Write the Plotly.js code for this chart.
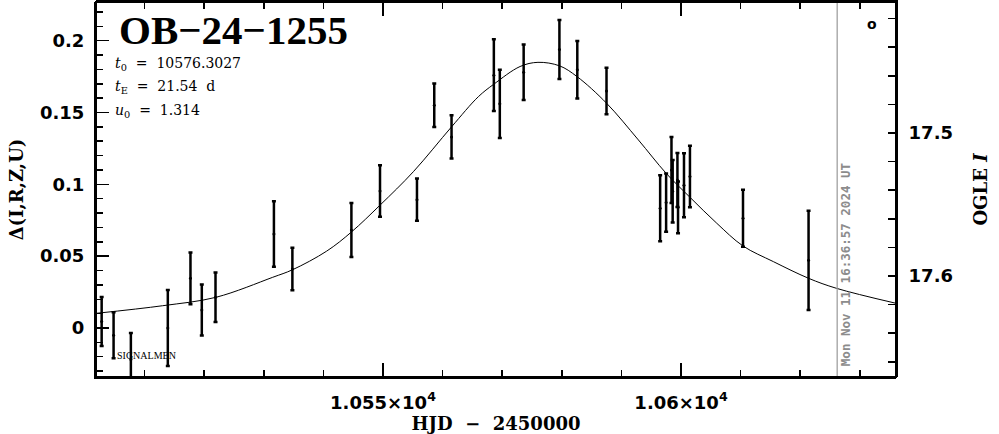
<!DOCTYPE html>
<html>
<head>
<meta charset="utf-8">
<script src="https://cdn.plot.ly/plotly-3.0.1.min.js"></script>
<style>html,body{margin:0;padding:0;background:#fff;}#chart{width:999px;height:434px;}</style>
</head>
<body>
<div id="chart"></div>
<script>
// Observations: HJD - 2450000, Delta flux, error
const obsHJD = [10502.8, 10504.8, 10507.7, 10513.9, 10517.7, 10519.6, 10521.9, 10531.7, 10534.8, 10544.7,
                10549.5, 10555.7, 10558.6, 10561.5, 10568.6, 10569.6, 10573.6, 10579.6, 10582.6, 10587.5,
                10596.5, 10597.5, 10598.4, 10598.6, 10599.4, 10599.5, 10600.5, 10601.5, 10610.4, 10621.4];
const obsDelta = [0.0045, -0.005, -0.022, 0.000, 0.0346, 0.0125, 0.0214, 0.0655, 0.041, 0.0682,
                  0.0954, 0.0893, 0.155, 0.133, 0.176, 0.156, 0.178, 0.1938, 0.1797, 0.165,
                  0.0833, 0.0873, 0.110, 0.0952, 0.103, 0.084, 0.0994, 0.1054, 0.0764, 0.0471];
const obsErr = [0.017, 0.016, 0.0185, 0.0265, 0.018, 0.0178, 0.0172, 0.0228, 0.0148, 0.0188,
                0.0179, 0.0147, 0.0151, 0.0151, 0.0249, 0.0237, 0.0193, 0.0205, 0.020, 0.0162,
                0.023, 0.0203, 0.023, 0.0218, 0.0188, 0.018, 0.0223, 0.0214, 0.0198, 0.0345];

// Model curve
const modelHJD = [10501.85, 10513.0, 10522.0, 10531.5, 10534.85, 10540.55, 10544.7, 10549.55, 10555.1, 10561.5,
                  10566.0, 10568.6, 10573.0, 10576.0, 10579.6, 10582.55, 10587.5, 10592.85, 10597.5, 10601.5,
                  10606.0, 10610.4, 10615.5, 10621.4, 10626.1, 10636.07];
const modelDelta = [0.0102, 0.0155, 0.0214, 0.0353, 0.0406, 0.0535, 0.0668, 0.0857, 0.1088, 0.140,
                    0.161, 0.1697, 0.182, 0.1849, 0.1825, 0.175, 0.1565, 0.1309, 0.1077, 0.091,
                    0.0729, 0.0571, 0.0462, 0.0346, 0.0276, 0.0172];

// Axis ticks
const xTickVals = [10550, 10600];
const xTickText = ['1.055×10<sup>4</sup>', '1.06×10<sup>4</sup>'];
const magTickVals = [17.5, 17.6];
const xRange = [10501.85, 10636.07];
const yRange = [-0.0341, 0.2269];
const magRange = [17.6706, 17.4084];
const nowHJD = 10626.2;
const nowLabel = 'Mon Nov 11 16:36:57 2024 UT';

const tickFont = {family: 'DejaVu Sans', size: 18, color: '#000', weight: 'bold'};
const titleFont = {family: 'DejaVu Serif', size: 18, color: '#000', weight: 'bold'};

const traces = [
  {
    x: modelHJD, y: modelDelta, type: 'scatter', mode: 'lines',
    line: {color: '#000', width: 1, shape: 'spline', smoothing: 1},
    hoverinfo: 'skip', showlegend: false
  },
  {
    x: obsHJD, y: obsDelta, type: 'scatter', mode: 'markers',
    marker: {color: '#000', size: 3},
    error_y: {type: 'data', array: obsErr, visible: true, color: '#000', thickness: 2.5, width: 2},
    showlegend: false
  },
  // empty trace: second full subplot (same area) carrying the top ticks and the OGLE I axis
  {x: [], y: [], type: 'scatter', mode: 'markers', xaxis: 'x2', yaxis: 'y2', showlegend: false}
];

const layout = {
  width: 999, height: 434,
  margin: {l: 96, r: 103, t: 2, b: 57},
  paper_bgcolor: '#fff', plot_bgcolor: 'rgba(0,0,0,0)',
  showlegend: false,
  xaxis: {
    domain: [0, 1], anchor: 'y',
    range: xRange, tickmode: 'array', tickvals: xTickVals, ticktext: xTickText,
    ticks: 'inside', ticklen: 14, tickwidth: 1.5, tickcolor: '#000',
    minor: {dtick: 10, tick0: 10500, ticks: 'inside', ticklen: 7, tickwidth: 1.5, tickcolor: '#000'},
    showline: true, linecolor: '#000', linewidth: 2, mirror: false,
    showgrid: false, zeroline: false, automargin: false,
    tickfont: tickFont, ticklabelstandoff: 8,
    title: {text: 'HJD\u00a0\u00a0−\u00a0\u00a02450000', font: titleFont, standoff: 6}
  },
  yaxis: {
    domain: [0, 1], anchor: 'x',
    range: yRange, tickmode: 'linear', tick0: 0, dtick: 0.05,
    ticks: 'inside', ticklen: 13, tickwidth: 1.5, tickcolor: '#000',
    minor: {dtick: 0.01, tick0: 0, ticks: 'inside', ticklen: 7, tickwidth: 1.5, tickcolor: '#000'},
    showline: true, linecolor: '#000', linewidth: 2, mirror: false,
    showgrid: false, zeroline: false, automargin: false,
    tickfont: tickFont, ticklabelstandoff: 6,
    title: {text: 'Δ(I,R,Z,U)', font: titleFont, standoff: 12}
  },
  xaxis2: {
    domain: [0, 1], anchor: 'y2', side: 'top',
    range: xRange, tickmode: 'array', tickvals: xTickVals, showticklabels: false,
    ticks: 'inside', ticklen: 14, tickwidth: 1.5, tickcolor: '#000',
    minor: {dtick: 10, tick0: 10500, ticks: 'inside', ticklen: 7, tickwidth: 1.5, tickcolor: '#000'},
    showline: true, linecolor: '#000', linewidth: 2,
    showgrid: false, zeroline: false, automargin: false
  },
  yaxis2: {
    domain: [0, 1], anchor: 'x2', side: 'right',
    range: magRange, tickmode: 'array', tickvals: magTickVals,
    ticks: 'inside', ticklen: 8, tickwidth: 1.5, tickcolor: '#000',
    minor: {dtick: 0.02, tick0: 17.5, ticks: 'inside', ticklen: 8, tickwidth: 1.5, tickcolor: '#000'},
    showline: true, linecolor: '#000', linewidth: 2,
    showgrid: false, zeroline: false, automargin: false,
    tickfont: tickFont, ticklabelstandoff: 7,
    title: {text: 'OGLE <i>I</i>', font: titleFont, standoff: 22}
  },
  shapes: [
    {type: 'line', xref: 'x', yref: 'paper', x0: nowHJD, x1: nowHJD, y0: 0, y1: 1,
     line: {color: '#999999', width: 1.2}},
    {type: 'rect', xref: 'paper', yref: 'paper', x0: 0, x1: 1, y0: 0, y1: 1,
     line: {color: '#000', width: 2}, fillcolor: 'rgba(0,0,0,0)', layer: 'above'}
  ],
  annotations: [
    {xref: 'paper', yref: 'paper', x: 0.026, y: 0.925, xanchor: 'left', yanchor: 'middle', showarrow: false,
     text: 'OB−24−1255', font: {family: 'Liberation Serif', size: 41, color: '#000', weight: 'bold'}},
    {xref: 'paper', yref: 'paper', x: 0.021, y: 0.834, xanchor: 'left', yanchor: 'middle', showarrow: false,
     text: '<i>t</i><sub>0</sub>\u00a0\u00a0=\u00a0\u00a010576.3027', font: {family: 'DejaVu Serif', size: 14, color: '#000'}},
    {xref: 'paper', yref: 'paper', x: 0.021, y: 0.772, xanchor: 'left', yanchor: 'middle', showarrow: false,
     text: '<i>t</i><sub>E</sub>\u00a0\u00a0=\u00a0\u00a021.54\u00a0\u00a0d', font: {family: 'DejaVu Serif', size: 14, color: '#000'}},
    {xref: 'paper', yref: 'paper', x: 0.021, y: 0.71, xanchor: 'left', yanchor: 'middle', showarrow: false,
     text: '<i>u</i><sub>0</sub>\u00a0\u00a0=\u00a0\u00a01.314', font: {family: 'DejaVu Serif', size: 14, color: '#000'}},
    {xref: 'paper', yref: 'paper', x: 0.024, y: 0.057, xanchor: 'left', yanchor: 'middle', showarrow: false,
     text: 'SIGNALMEN', font: {family: 'Liberation Serif', size: 10, color: '#000'}},
    {xref: 'paper', yref: 'paper', x: 0.97, y: 0.942, xanchor: 'center', yanchor: 'middle', showarrow: false,
     text: 'o', font: {family: 'DejaVu Sans', size: 14, color: '#000', weight: 'bold'}},
    {xref: 'x', yref: 'paper', x: nowHJD, y: 0.3, xanchor: 'left', yanchor: 'middle', xshift: -1, showarrow: false,
     textangle: -90, text: nowLabel,
     font: {family: 'DejaVu Sans Mono', size: 12.5, color: '#8c8c8c', weight: 'bold'}}
  ]
};

Plotly.newPlot('chart', traces, layout, {staticPlot: true, displayModeBar: false});
</script>
</body>
</html>
